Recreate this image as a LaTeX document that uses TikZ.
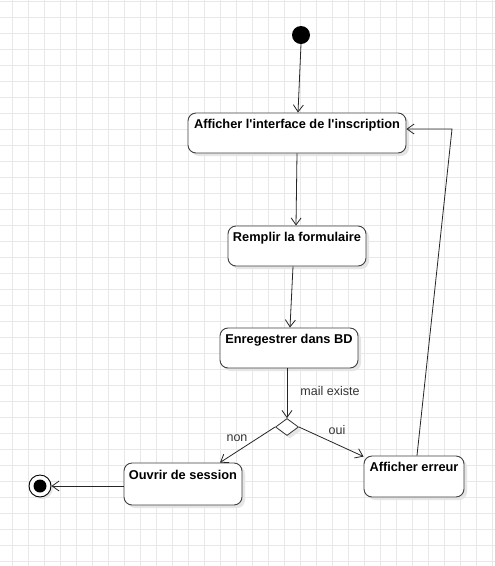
\documentclass[tikz,border=0pt]{standalone}
\usepackage{fontspec}
\setmainfont{Liberation Sans}
\usetikzlibrary{arrows.meta,shapes.geometric,shadows}
\begin{document}
\begin{tikzpicture}[x=1pt,y=-1pt,
  gridline/.style={draw=black!9, line width=0.8pt},
  box/.style={draw=black!75, line width=0.9pt, rounded corners=8pt, fill=white, inner sep=0pt,
    drop shadow={shadow xshift=3pt,shadow yshift=-3pt,fill=black!10,opacity=1}},
  lbl/.style={font=\fontsize{12.8}{15}\selectfont\bfseries, anchor=north, inner sep=0pt},
  edgelbl/.style={font=\fontsize{12.5}{14}\selectfont, text=black!80, inner sep=0pt},
  conn/.style={draw=black!85, line width=0.8pt},
  arr/.style={conn, -{Straight Barb[length=7pt,width=10pt]}}
]
\useasboundingbox (0,0) rectangle (495,566);
\fill[white] (0,0) rectangle (495,566);
\foreach \x in {12.5,28.5,...,492.5} \draw[gridline] (\x,0) -- (\x,566);
\foreach \y in {1.5,17.5,...,565.5} \draw[gridline] (0,\y) -- (495,\y);

% nodes
\node[circle, fill=black, minimum size=18pt, inner sep=0pt] (s) at (301,35) {};
\node[box, minimum width=218pt, minimum height=40pt] (b1) at (297,133) {};
\node[lbl] (t1) at ([yshift=-6pt]b1.north) {Afficher l\textquotesingle interface de l\textquotesingle inscription};
\node[box, minimum width=138pt, minimum height=40pt] (b2) at (297,246) {};
\node[lbl] (t2) at ([yshift=-6pt]b2.north) {Remplir la formulaire};
\node[box, minimum width=138pt, minimum height=40pt] (b3) at (289,348) {};
\node[lbl] (t3) at ([yshift=-6pt]b3.north) {Enregestrer dans BD};
\node[diamond, draw=black!80, line width=0.8pt, fill=white, minimum width=23pt, minimum height=17pt, inner sep=0pt,
  drop shadow={shadow xshift=3pt,shadow yshift=-3pt,fill=black!10,opacity=1}] (d) at (287,427) {};
\node[box, minimum width=118pt, minimum height=42pt] (o) at (183,484) {};
\node[lbl] (t4) at ([yshift=-7pt]o.north) {Ouvrir de session};
\node[box, minimum width=100pt, minimum height=41pt] (e) at (414,476.5) {};
\node[lbl] (t5) at ([yshift=-6pt]e.north) {Afficher erreur};
\node[circle, draw=black, line width=0.9pt, fill=white, minimum size=22pt, inner sep=0pt,
  drop shadow={shadow xshift=2pt,shadow yshift=-2pt,fill=black!10,opacity=1}] (f) at (40,486) {};
\node[circle, fill=black, minimum size=13pt, inner sep=0pt] (fi) at (f.center) {};

% connectors
\draw[arr] (s.south) -- ([xshift=1pt]b1.north);
\draw[arr] (b1.south) -- ([xshift=-1pt]b2.north);
\draw[arr] ([xshift=-4pt]b2.south) -- ([xshift=1pt]b3.north);
\draw[arr] ([xshift=-2pt]b3.south) -- (d.north);
\draw[arr] (d.west) -- ([xshift=37pt]o.north);
\draw[arr] (d.east) -- ([yshift=-1pt]e.north west);
\draw[arr] ([yshift=-2pt]o.west) -- (f.east);
\coordinate (c) at (452,129);
\draw[arr] ([xshift=3pt]e.north) -- (c) -- (c -| b1.east);

% labels
\node[edgelbl] (l1) at (330,391) {mail existe};
\node[edgelbl] (l2) at (337,430) {oui};
\node[edgelbl] (l3) at (237,438) {non};
\end{tikzpicture}
\end{document}
